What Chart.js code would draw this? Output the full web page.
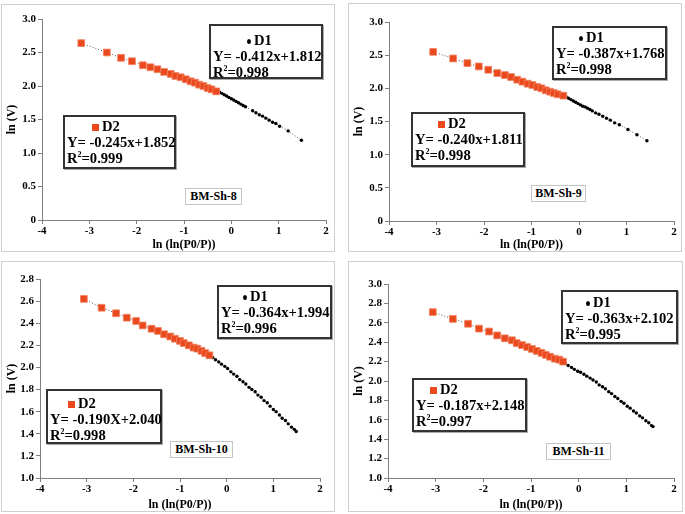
<!DOCTYPE html>
<html>
<head>
<meta charset="utf-8">
<script src="https://cdn.jsdelivr.net/npm/chart.js@4.4.1/dist/chart.umd.min.js"></script>
<style>
  body { margin: 0; width: 685px; height: 514px; background: #fff; position: relative; overflow: hidden;
         font-family: "Liberation Serif", "Times New Roman", serif; font-weight: bold; color: #000; }
  .panel { position: absolute; border: 1px solid #cfcfcf; box-sizing: border-box; background: #fff; }
  .panel canvas { position: absolute; left: 0; top: 0; }
  .eq { position: absolute; box-sizing: border-box; border: 2px solid #333; box-shadow: 1px 1px 0 #aaa;
        background: #fff; font-size: 14.6px; line-height: 16px; padding-left: 2px; white-space: nowrap; }
  .eq .mark { display: inline-block; vertical-align: middle; margin-right: 3px; }
  .eq .dot { width: 4px; height: 5px; border-radius: 50%; background: #000; }
  .eq .sq { width: 7px; height: 7px; background: #e9491d; }
  .eq sup { font-size: 8px; vertical-align: 6px; line-height: 0; }
  .tag { position: absolute; box-sizing: border-box; border: 1px solid #c4c4c4; background: #fff;
         font-size: 12px; text-align: center; white-space: nowrap; }
</style>
</head>
<body>
<script>
// axis ticks
const X_TICKS = [-4, -3, -2, -1, 0, 1, 2];
const Y_TICKS_FULL = [0, 0.5, 1.0, 1.5, 2.0, 2.5, 3.0];
const Y_TICKS_28 = [1.0, 1.2, 1.4, 1.6, 1.8, 2.0, 2.2, 2.4, 2.6, 2.8];
const Y_TICKS_30 = [1.0, 1.2, 1.4, 1.6, 1.8, 2.0, 2.2, 2.4, 2.6, 2.8, 3.0];

// BM-Sh-8
const SH8_D2_X = [-3.17, -2.63, -2.33, -2.10, -1.87, -1.71, -1.56, -1.42, -1.28, -1.18, -1.07, -0.96, -0.86, -0.77, -0.68, -0.59, -0.50, -0.42, -0.32];
const SH8_D2_Y = [2.64, 2.50, 2.42, 2.37, 2.31, 2.28, 2.25, 2.21, 2.18, 2.15, 2.13, 2.10, 2.07, 2.05, 2.02, 2.00, 1.97, 1.95, 1.92];
const SH8_D1_X = [-0.25, -0.20, -0.15, -0.10, -0.05, 0.00, 0.05, 0.10, 0.15, 0.20, 0.25, 0.30, 0.45, 0.52, 0.59, 0.66, 0.73, 0.80, 0.87, 0.94, 1.02, 1.20, 1.48];
const SH8_D1_Y = [1.91, 1.89, 1.87, 1.85, 1.83, 1.81, 1.79, 1.77, 1.75, 1.73, 1.71, 1.69, 1.63, 1.60, 1.57, 1.55, 1.52, 1.49, 1.46, 1.44, 1.40, 1.33, 1.19];

// BM-Sh-9
const SH9_D2_X = [-3.07, -2.65, -2.35, -2.11, -1.91, -1.72, -1.56, -1.43, -1.30, -1.19, -1.08, -0.98, -0.88, -0.79, -0.70, -0.61, -0.53, -0.45, -0.33];
const SH9_D2_Y = [2.55, 2.45, 2.38, 2.33, 2.28, 2.23, 2.20, 2.17, 2.13, 2.10, 2.07, 2.05, 2.02, 2.00, 1.97, 1.95, 1.93, 1.91, 1.89];
const SH9_D1_X = [-0.27, -0.22, -0.17, -0.12, -0.07, -0.02, 0.03, 0.08, 0.13, 0.18, 0.23, 0.28, 0.35, 0.42, 0.50, 0.58, 0.66, 0.75, 0.85, 1.03, 1.22, 1.43];
const SH9_D1_Y = [1.87, 1.85, 1.83, 1.81, 1.79, 1.77, 1.75, 1.73, 1.72, 1.70, 1.68, 1.66, 1.63, 1.61, 1.58, 1.55, 1.52, 1.48, 1.45, 1.38, 1.30, 1.21];

// BM-Sh-10
const SH10_D2_X = [-3.06, -2.68, -2.37, -2.14, -1.94, -1.80, -1.61, -1.47, -1.34, -1.21, -1.11, -1.00, -0.92, -0.81, -0.71, -0.63, -0.54, -0.46, -0.37];
const SH10_D2_Y = [2.62, 2.54, 2.49, 2.45, 2.42, 2.38, 2.35, 2.33, 2.30, 2.28, 2.26, 2.24, 2.22, 2.20, 2.18, 2.17, 2.15, 2.13, 2.11];
const SH10_D1_X = [-0.30, -0.24, -0.17, -0.11, -0.04, 0.02, 0.09, 0.15, 0.22, 0.28, 0.35, 0.41, 0.48, 0.54, 0.61, 0.67, 0.74, 0.80, 0.87, 0.93, 1.00, 1.06, 1.13, 1.19, 1.26, 1.32, 1.39, 1.45, 1.49];
const SH10_D1_Y = [2.09, 2.07, 2.05, 2.03, 2.01, 1.99, 1.96, 1.94, 1.92, 1.89, 1.87, 1.85, 1.82, 1.80, 1.78, 1.75, 1.73, 1.70, 1.68, 1.65, 1.62, 1.60, 1.57, 1.54, 1.52, 1.49, 1.46, 1.44, 1.42];

// BM-Sh-11
const SH11_D2_X = [-3.06, -2.64, -2.32, -2.09, -1.88, -1.71, -1.55, -1.40, -1.30, -1.19, -1.08, -0.98, -0.88, -0.78, -0.69, -0.60, -0.50, -0.41, -0.33];
const SH11_D2_Y = [2.71, 2.64, 2.59, 2.54, 2.51, 2.47, 2.44, 2.42, 2.39, 2.37, 2.35, 2.33, 2.31, 2.29, 2.27, 2.25, 2.23, 2.22, 2.20];
const SH11_D1_X = [-0.28, -0.22, -0.15, -0.09, -0.02, 0.04, 0.11, 0.17, 0.24, 0.30, 0.37, 0.43, 0.50, 0.56, 0.63, 0.69, 0.76, 0.82, 0.89, 0.95, 1.02, 1.08, 1.15, 1.21, 1.28, 1.34, 1.41, 1.47, 1.53, 1.56];
const SH11_D1_Y = [2.18, 2.16, 2.14, 2.12, 2.10, 2.09, 2.07, 2.05, 2.03, 2.01, 1.99, 1.96, 1.94, 1.92, 1.89, 1.87, 1.84, 1.82, 1.79, 1.77, 1.74, 1.72, 1.69, 1.67, 1.64, 1.62, 1.59, 1.57, 1.54, 1.53];

const FONT = '"Liberation Serif", "Times New Roman", serif';
const ORANGE = '#e9491d';

// frame: [left, top, width, height]; area: space left / right / top / bottom of the plot inside the canvas
const panels = [
  { name: 'BM-Sh-8', d1: [SH8_D1_X, SH8_D1_Y], d2: [SH8_D2_X, SH8_D2_Y], yTicks: Y_TICKS_FULL,
    frame: [1, 4, 334, 248], area: { left: 40, right: 8, top: 14, bottom: 31 },
    d1Box: { left: 209, top: 24, w: 114, h: 55, c1: 16, mx: 38, eq: 'Y= -0.412x+1.812', r2: '0.998' },
    d2Box: { left: 63, top: 115, w: 113, h: 54, c1: 11, mx: 29, eq: 'Y= -0.245x+1.852', r2: '0.999' },
    tag: { left: 185, top: 188, w: 57, h: 17 } },
  { name: 'BM-Sh-9', d1: [SH9_D1_X, SH9_D1_Y], d2: [SH9_D2_X, SH9_D2_Y], yTicks: Y_TICKS_FULL,
    frame: [348, 3, 334, 249], area: { left: 40, right: 7, top: 18, bottom: 30 },
    d1Box: { left: 552, top: 26, w: 115, h: 54, c1: 11, mx: 27, eq: 'Y= -0.387x+1.768', r2: '0.998' },
    d2Box: { left: 411, top: 112, w: 114, h: 55, c1: 11, mx: 27, eq: 'Y= -0.240x+1.811', r2: '0.998' },
    tag: { left: 531, top: 185, w: 55, h: 17 } },
  { name: 'BM-Sh-10', d1: [SH10_D1_X, SH10_D1_Y], d2: [SH10_D2_X, SH10_D2_Y], yTicks: Y_TICKS_28,
    frame: [1, 261, 334, 251], area: { left: 38, right: 14, top: 17, bottom: 33 },
    d1Box: { left: 217, top: 285, w: 115, h: 54, c1: 11, mx: 26, eq: 'Y= -0.364x+1.994', r2: '0.996' },
    d2Box: { left: 46, top: 389, w: 116, h: 55, c1: 14, mx: 22, eq: 'Y= -0.190X+2.040', r2: '0.998' },
    tag: { left: 170, top: 441, w: 63, h: 17 } },
  { name: 'BM-Sh-11', d1: [SH11_D1_X, SH11_D1_Y], d2: [SH11_D2_X, SH11_D2_Y], yTicks: Y_TICKS_30,
    frame: [348, 261, 335, 251], area: { left: 39, right: 8, top: 22, bottom: 33 },
    d1Box: { left: 561, top: 290, w: 117, h: 54, c1: 12, mx: 25, eq: 'Y= -0.363x+2.102', r2: '0.995' },
    d2Box: { left: 412, top: 378, w: 115, h: 54, c1: 11, mx: 18, eq: 'Y= -0.187x+2.148', r2: '0.997' },
    tag: { left: 546, top: 443, w: 65, h: 17 } }
];

const toPoints = (xs, ys) => xs.map((x, i) => ({ x, y: ys[i] }));

function axisGrid () {
  return { display: true, drawOnChartArea: false, drawTicks: true, tickLength: 4, color: '#7f7f7f', lineWidth: 1 };
}

function addChart (p) {
  const [left, top, width, height] = p.frame;
  const panel = document.createElement('div');
  panel.className = 'panel';
  Object.assign(panel.style, { left: left + 'px', top: top + 'px', width: width + 'px', height: height + 'px' });
  const canvas = document.createElement('canvas');
  canvas.width = width - 2;
  canvas.height = height - 2;
  panel.appendChild(canvas);
  document.body.appendChild(panel);

  const yTicks = p.yTicks;
  new Chart(canvas, {
    type: 'scatter',
    data: {
      datasets: [
        {
          label: 'D2',
          data: toPoints(p.d2[0], p.d2[1]),
          showLine: true,
          borderColor: '#555',
          borderWidth: 1,
          borderDash: [1, 2],
          pointStyle: 'rect',
          pointRadius: 4.8,
          pointBackgroundColor: ORANGE,
          pointBorderColor: '#f2825f',
          pointBorderWidth: 0.8,
          order: 0
        },
        {
          label: 'D1',
          data: toPoints(p.d1[0], p.d1[1]),
          showLine: true,
          borderColor: '#555',
          borderWidth: 1,
          borderDash: [1, 2],
          pointStyle: 'circle',
          pointRadius: 1.7,
          pointBackgroundColor: '#000',
          pointBorderWidth: 0,
          order: 1
        }
      ]
    },
    options: {
      responsive: false,
      animation: false,
      events: [],
      layout: { padding: { left: 0, right: p.area.right, top: p.area.top, bottom: 0 } },
      plugins: { legend: { display: false }, tooltip: { enabled: false } },
      scales: {
        x: {
          type: 'linear',
          min: X_TICKS[0],
          max: X_TICKS[X_TICKS.length - 1],
          afterBuildTicks: (scale) => { scale.ticks = X_TICKS.map(v => ({ value: v })); },
          afterFit: (scale) => { scale.height = p.area.bottom; },
          grid: axisGrid(),
          border: { display: true, color: '#7f7f7f', width: 1 },
          ticks: {
            autoSkip: false, maxRotation: 0, padding: 1, color: '#000',
            font: { family: FONT, size: 11, weight: 'bold' },
            callback: (v) => String(v)
          },
          title: {
            display: true, text: 'ln (ln(P0/P))', color: '#000',
            font: { family: FONT, size: 12, weight: 'bold', lineHeight: 1 },
            padding: { top: 0, bottom: 0 }
          }
        },
        y: {
          type: 'linear',
          min: yTicks[0],
          max: yTicks[yTicks.length - 1],
          afterBuildTicks: (scale) => { scale.ticks = yTicks.map(v => ({ value: v })); },
          afterFit: (scale) => { scale.width = p.area.left; },
          grid: axisGrid(),
          border: { display: true, color: '#7f7f7f', width: 1 },
          ticks: {
            autoSkip: false, padding: 2, color: '#000',
            font: { family: FONT, size: 11, weight: 'bold' },
            callback: (v) => (v === 0 ? '0' : Number(v).toFixed(1))
          },
          title: {
            display: true, text: 'ln (V)', color: '#000',
            font: { family: FONT, size: 12, weight: 'bold', lineHeight: 1 },
            padding: { top: 4, bottom: 0 }
          }
        }
      }
    }
  });
}

function addEqBox (b, label, markClass) {
  const el = document.createElement('div');
  el.className = 'eq';
  Object.assign(el.style, {
    left: b.left + 'px', top: b.top + 'px', width: b.w + 'px', height: b.h + 'px',
    paddingTop: (b.c1 - 10) + 'px'
  });
  const row1 = document.createElement('div');
  row1.style.paddingLeft = (b.mx - 4) + 'px';
  const mark = document.createElement('span');
  mark.className = 'mark ' + markClass;
  row1.appendChild(mark);
  row1.appendChild(document.createTextNode(label));
  const row2 = document.createElement('div');
  row2.textContent = b.eq;
  const row3 = document.createElement('div');
  row3.innerHTML = 'R<sup>2</sup>=' + b.r2;
  el.append(row1, row2, row3);
  document.body.appendChild(el);
}

function addTag (t, text) {
  const el = document.createElement('div');
  el.className = 'tag';
  Object.assign(el.style, {
    left: t.left + 'px', top: t.top + 'px', width: t.w + 'px', height: t.h + 'px', lineHeight: (t.h - 2) + 'px'
  });
  el.textContent = text;
  document.body.appendChild(el);
}

panels.forEach(p => {
  addChart(p);
  addEqBox(p.d1Box, 'D1', 'dot');
  addEqBox(p.d2Box, 'D2', 'sq');
  addTag(p.tag, p.name);
});
</script>
</body>
</html>
